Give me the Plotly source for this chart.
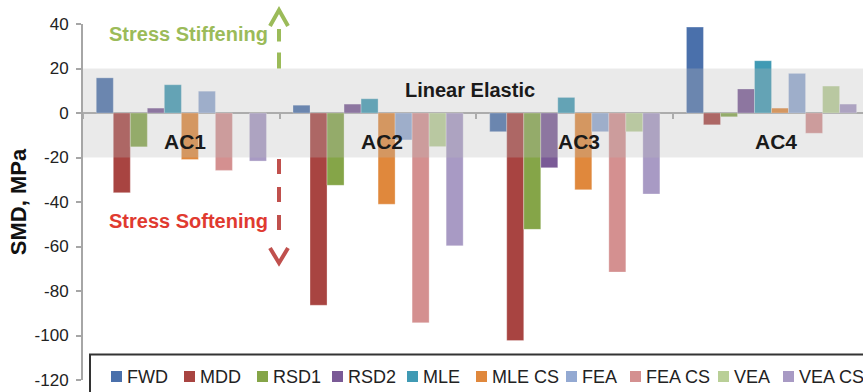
import plotly.graph_objects as go

# Pavement sections (x categories)
groups = ["AC1", "AC2", "AC3", "AC4"]

# Series names in legend order
series_names = ["FWD", "MDD", "RSD1", "RSD2", "MLE", "MLE CS", "FEA", "FEA CS", "VEA", "VEA CS"]

# SMD values (MPa) per section
fwd = [15.8, 3.5, -8.4, 38.6]
mdd = [-35.8, -86.4, -102.3, -5.3]
rsd1 = [-15.2, -32.5, -52.3, -1.7]
rsd2 = [2.2, 4.0, -24.6, 10.8]
mle = [12.7, 6.4, 7.0, 23.5]
mle_cs = [-20.9, -41.0, -34.5, 2.2]
fea = [9.8, -12.1, -8.4, 17.8]
fea_cs = [-25.8, -94.3, -71.5, -9.1]
vea = [None, -15.1, -8.4, 12.1]
vea_cs = [-21.6, -59.7, -36.4, 4.0]

series_values = [fwd, mdd, rsd1, rsd2, mle, mle_cs, fea, fea_cs, vea, vea_cs]

series_colors = ["#4A70AB", "#A84441", "#85A548", "#7A5A96", "#409AB4",
                 "#E0883C", "#93A9D2", "#D49090", "#B9CF97", "#A89AC4"]

y_ticks = [40, 20, 0, -20, -40, -60, -80, -100, -120]
Y_MIN, Y_MAX = -120, 40
ELASTIC_LOW, ELASTIC_HIGH = -20, 20

FONT = "Liberation Sans, Arial, Helvetica, sans-serif"
FIG_W, FIG_H = 863, 392
M_L, M_R, M_T, M_B = 83, 0, 24, 12
PLOT_W = FIG_W - M_L - M_R
PLOT_H = FIG_H - M_T - M_B

# Legend layout: left edge (px) of each key swatch, one row across the bottom
legend_key_left = [111, 184, 257, 332, 407, 476, 566, 630, 718, 783]
LEGEND_ROW_Y = 376.5
KEY = 11


def px_x(p):
    """Figure pixel x -> paper x."""
    return (p - M_L) / PLOT_W


def px_y(p):
    """Figure pixel y (from top) -> paper y."""
    return (FIG_H - M_B - p) / PLOT_H


def py(v):
    """Value on the SMD axis -> paper y fraction."""
    return (v - Y_MIN) / (Y_MAX - Y_MIN)


fig = go.Figure()
for name, vals, col in zip(series_names, series_values, series_colors):
    fig.add_trace(go.Bar(
        x=groups, y=vals, name=name, showlegend=False,
        marker=dict(color=col, line=dict(color="rgba(255,255,255,0.5)", width=0.6)),
    ))

# Linear elastic band, drawn over the bars so they look washed inside it
shapes = [
    dict(type="rect", xref="paper", yref="y", x0=0, x1=1,
         y0=ELASTIC_LOW, y1=ELASTIC_HIGH, fillcolor="rgba(184,184,184,0.3)",
         line=dict(width=0), layer="above"),
]

# Dashed direction arrows
ax_x = px_x(279)
arm = 9 / PLOT_W
green = "#9BBB59"
red = "#C0504D"
shapes += [
    dict(type="line", xref="paper", yref="paper", x0=ax_x, x1=ax_x,
         y0=py(20), y1=py(37.8), line=dict(color=green, width=4, dash="16px,11px"),
         layer="above"),
    dict(type="path", xref="paper", yref="paper",
         path=f"M{ax_x - arm},{py(39.1)} L{ax_x},{py(46.3)} L{ax_x + arm},{py(39.1)}",
         line=dict(color=green, width=4), layer="above"),
    dict(type="line", xref="paper", yref="paper", x0=ax_x, x1=ax_x,
         y0=py(-20.7), y1=py(-55), line=dict(color=red, width=4, dash="15px,13px"),
         layer="above"),
    dict(type="path", xref="paper", yref="paper",
         path=f"M{ax_x - arm},{py(-60.7)} L{ax_x},{py(-67.4)} L{ax_x + arm},{py(-60.7)}",
         line=dict(color=red, width=4), layer="above"),
    # legend frame
    dict(type="rect", xref="paper", yref="paper",
         x0=px_x(90), x1=1.05, y0=px_y(354.5), y1=-0.2,
         line=dict(color="#333333", width=2), fillcolor="white", layer="above"),
]

annotations = []
for g in groups:
    annotations.append(dict(
        x=g, y=-13, xref="x", yref="y", text=g, showarrow=False, xshift=4,
        xanchor="center", yanchor="middle",
        font=dict(family=FONT, size=21, color="#1A1A1A", weight=700),
    ))
annotations += [
    dict(x=px_x(469.5), y=10.4, xref="paper", yref="y", text="Linear Elastic",
         showarrow=False, xanchor="center", yanchor="middle",
         font=dict(family=FONT, size=20, color="#1A1A1A", weight=700)),
    dict(x=px_x(270), y=py(35.5), xref="paper", yref="paper",
         xanchor="right", yanchor="middle",
         text="Stress Stiffening", showarrow=False,
         font=dict(family=FONT, size=20, color=green, weight=700)),
    dict(x=px_x(270), y=py(-48.5), xref="paper", yref="paper",
         xanchor="right", yanchor="middle",
         text="Stress Softening", showarrow=False,
         font=dict(family=FONT, size=20, color="#E03A30", weight=700)),
]

# Legend keys and labels
for name, col, left in zip(series_names, series_colors, legend_key_left):
    shapes.append(dict(
        type="rect", xref="paper", yref="paper",
        x0=px_x(left), x1=px_x(left + KEY),
        y0=px_y(LEGEND_ROW_Y + KEY / 2), y1=px_y(LEGEND_ROW_Y - KEY / 2),
        fillcolor=col, line=dict(width=0), layer="above"))
    annotations.append(dict(
        x=px_x(left + KEY + 3), y=px_y(LEGEND_ROW_Y), xref="paper", yref="paper",
        xanchor="left", yanchor="middle", text=name, showarrow=False,
        font=dict(family=FONT, size=18, color="#222222")))

fig.update_layout(
    width=FIG_W, height=FIG_H,
    margin=dict(l=M_L, r=M_R, t=M_T, b=M_B),
    plot_bgcolor="white", paper_bgcolor="white",
    font=dict(family=FONT, color="#222222"),
    barmode="group", bargap=0.135, bargroupgap=0,
    shapes=shapes, annotations=annotations,
    showlegend=False,
    xaxis=dict(type="category", range=[-0.5, 3.465], anchor="free", position=py(0),
               showline=False, showgrid=False, zeroline=False,
               ticks="outside", ticklen=5, tickwidth=2, tickcolor="#A6A6A6",
               tickson="boundaries", showticklabels=False, fixedrange=True),
    yaxis=dict(range=[Y_MIN, Y_MAX], tickvals=y_ticks, ticktext=[str(t) for t in y_ticks],
               showline=True, linecolor="#A6A6A6", linewidth=2,
               ticks="outside", ticklen=5, tickwidth=1.5, tickcolor="#A6A6A6",
               ticklabelstandoff=4,
               showgrid=False, zeroline=True, zerolinecolor="#A6A6A6", zerolinewidth=2,
               tickfont=dict(family=FONT, size=17, color="#222222"),
               title=dict(text="SMD, MPa", standoff=2,
                          font=dict(family=FONT, size=22, color="#111111", weight=700)),
               fixedrange=True),
)

fig.write_html("out.html")
